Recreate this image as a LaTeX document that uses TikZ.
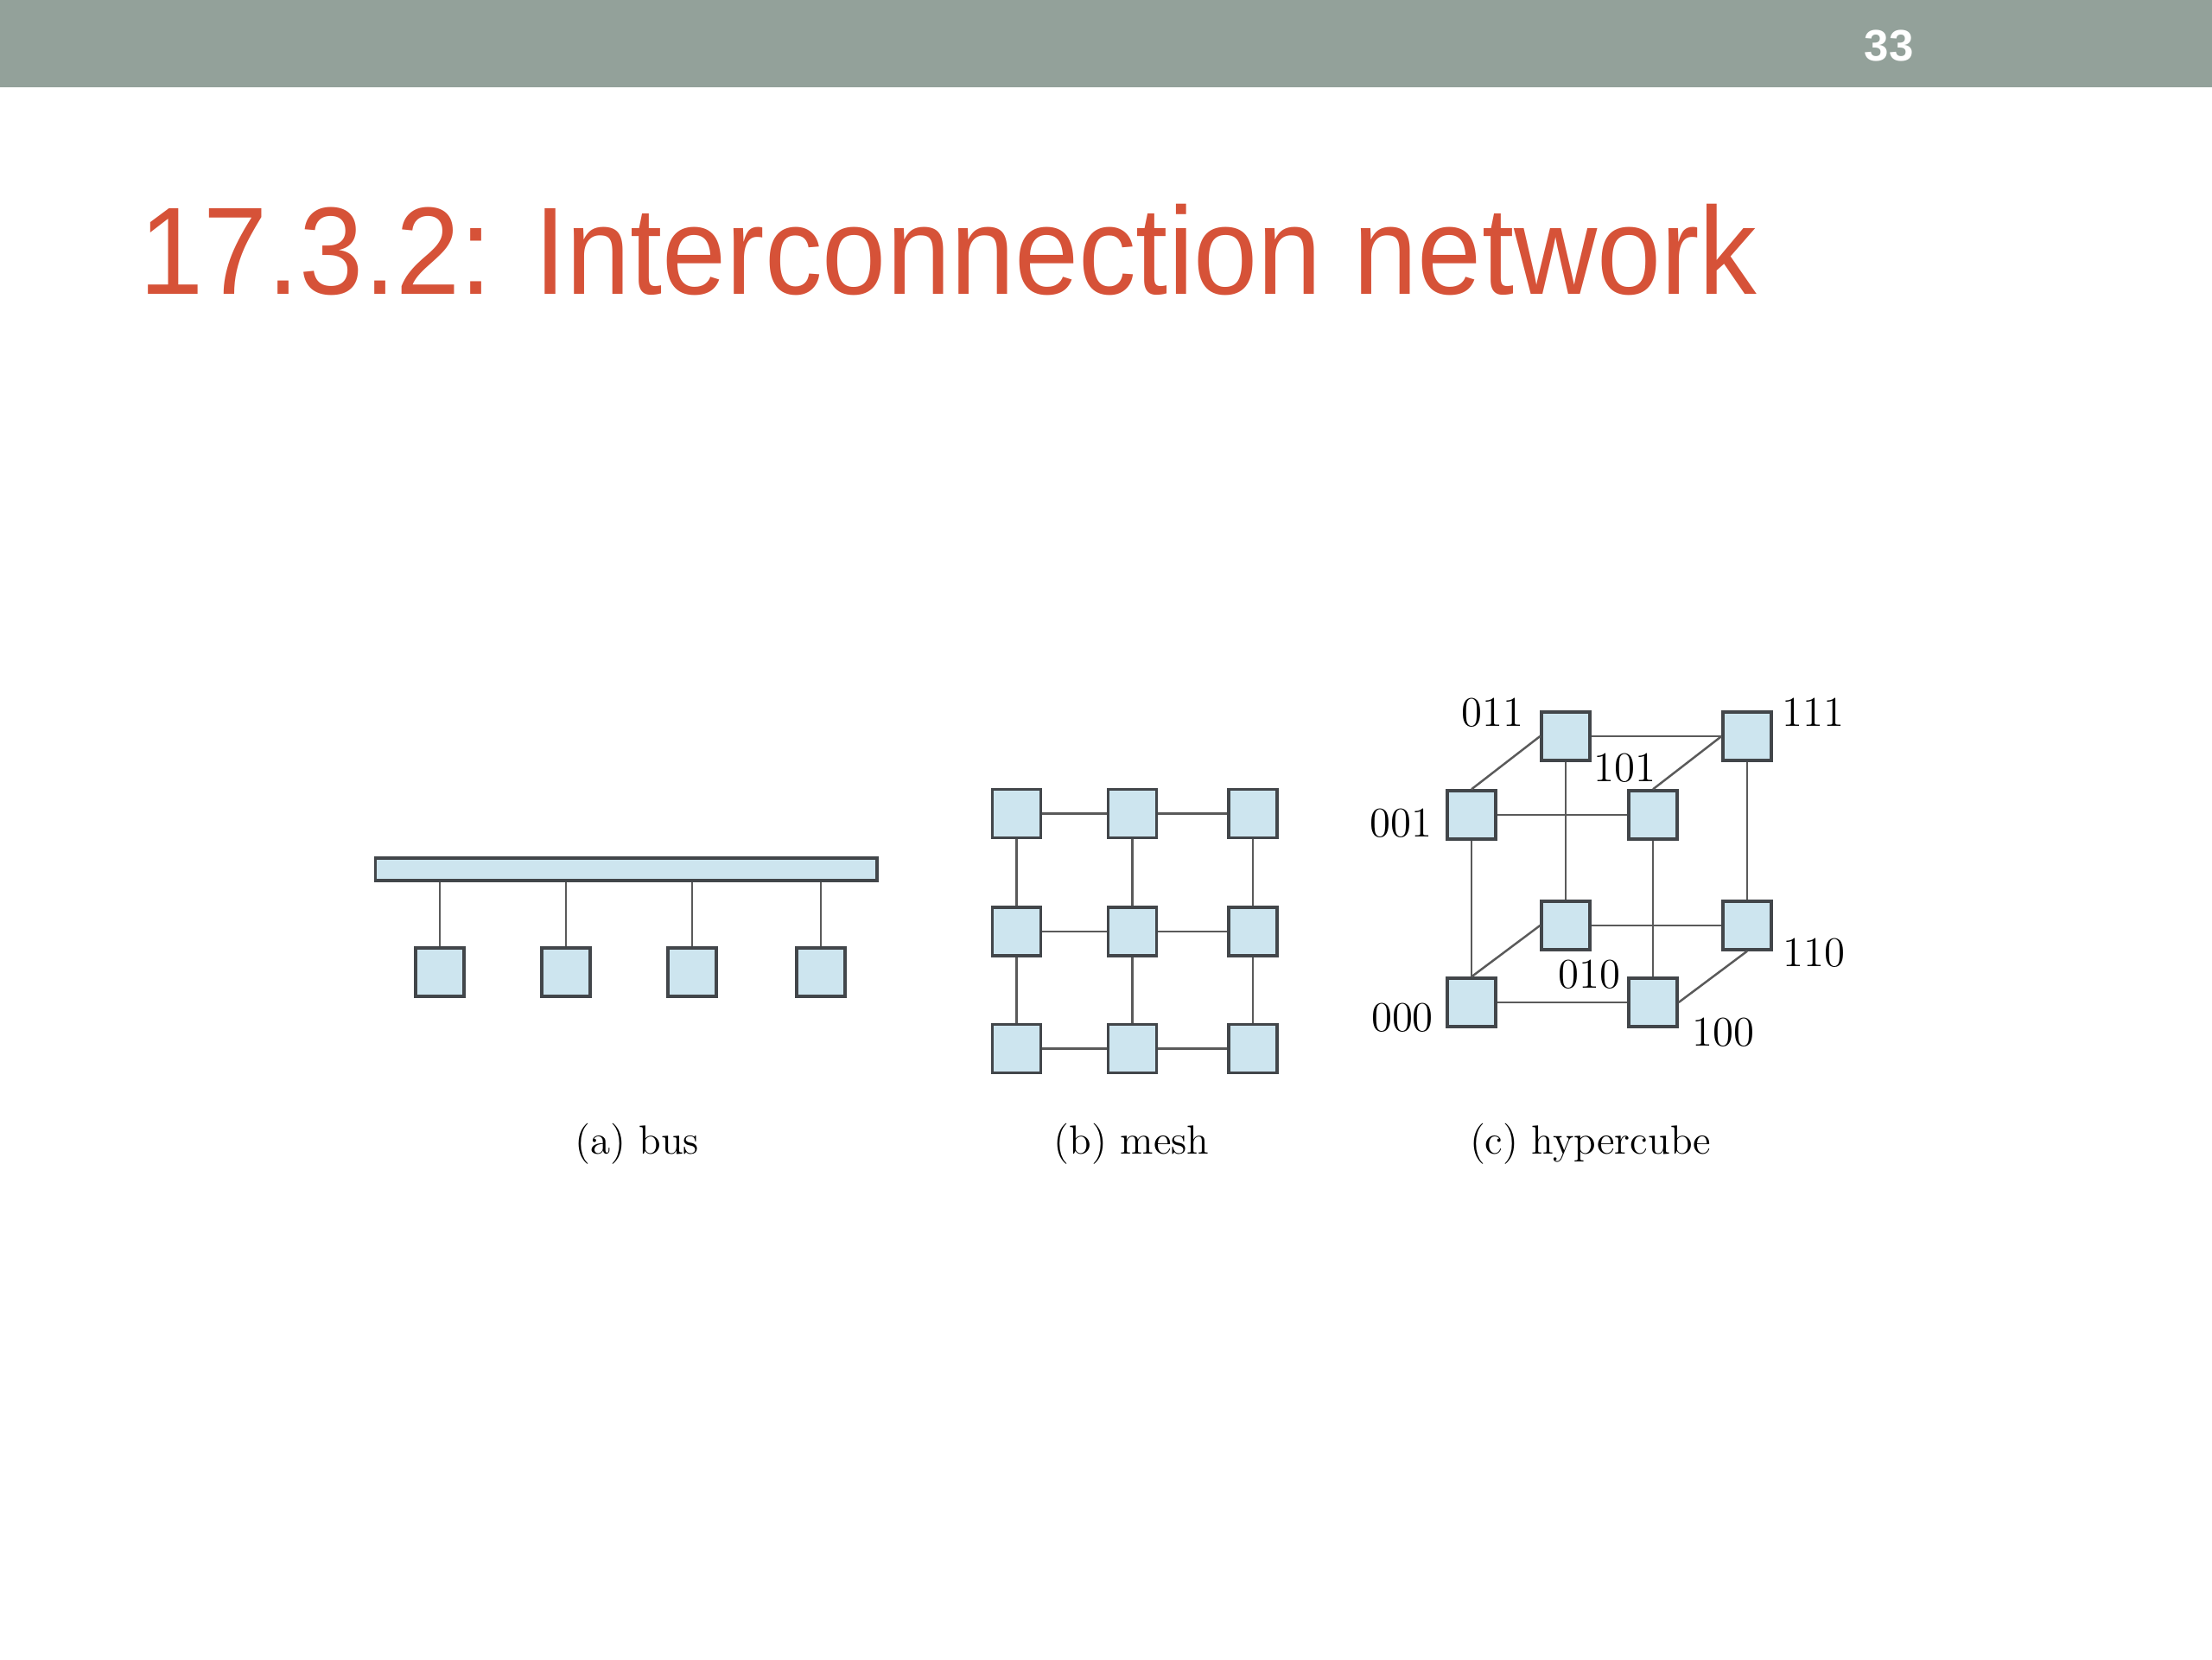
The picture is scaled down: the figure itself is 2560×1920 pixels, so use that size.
\documentclass[tikz,border=0pt]{standalone}
\usepackage{fontspec}
\usepackage{graphicx}
\newfontfamily\headfont{Liberation Sans}
\usepackage{tikz}
\usetikzlibrary{positioning}
\definecolor{bargray}{RGB}{147,161,154}
\definecolor{titlered}{RGB}{214,82,56}
\definecolor{nodeblue}{RGB}{205,229,239}
\definecolor{edgegray}{RGB}{66,70,74}
\definecolor{linkgray}{RGB}{90,90,90}

\begin{document}
\begin{tikzpicture}[x=0.01cm,y=-0.01cm,
    proc/.style={draw=edgegray,fill=nodeblue,line width=0.95pt,minimum size=0.56cm,inner sep=0pt},
    link/.style={draw=linkgray,line width=0.7pt},
    bitlabel/.style={font=\fontsize{13.9}{16}\selectfont,inner sep=0pt,anchor=base},
    subcap/.style={font=\fontsize{13.4}{16}\selectfont,inner sep=0pt,anchor=base}]
            \useasboundingbox (0,0) rectangle (2560,1920);
            \fill[white] (0,0) rectangle (2560,1920);
            % Slide header
            \fill[bargray] (0,0) rectangle (2560,101);
            \node[anchor=base,inner sep=0pt,text=white,font=\headfont\bfseries\fontsize{14.5}{17}\selectfont] (pagenum) at (2186,70) {33};
            \node[anchor=base west,inner sep=0pt,text=titlered,font=\headfont\fontsize{37.9}{46}\selectfont] (title) at (161,340) {\scalebox{1}[1.08]{17.3.2: Interconnection network}};

            % Left diagram (bus)
            \node[proc,minimum width=5.80cm,minimum height=0.26cm] (bus) at (724.7,1005.9) {};
            \node[proc] (bus1) at (509,1125) {};
            \node[proc] (bus2) at (655,1125) {};
            \node[proc] (bus3) at (801,1125) {};
            \node[proc] (bus4) at (950,1125) {};
            \draw[link] (bus1.north) -- (bus1.north |- bus.south);
            \draw[link] (bus2.north) -- (bus2.north |- bus.south);
            \draw[link] (bus3.north) -- (bus3.north |- bus.south);
            \draw[link] (bus4.north) -- (bus4.north |- bus.south);
            \node[subcap] (capbus) at (737,1335) {(a) bus};

            % Middle diagram (mesh)
            \node[proc] (m11) at (1176.5,941.5) {};
            \node[proc] (m12) at (1310.7,941.5) {};
            \node[proc] (m13) at (1450,941.5) {};
            \node[proc] (m21) at (1176.5,1078) {};
            \node[proc] (m22) at (1310.7,1078) {};
            \node[proc] (m23) at (1450,1078) {};
            \node[proc] (m31) at (1176.5,1213.5) {};
            \node[proc] (m32) at (1310.7,1213.5) {};
            \node[proc] (m33) at (1450,1213.5) {};
            \draw[link] (m11) -- (m12);
            \draw[link] (m12) -- (m13);
            \draw[link] (m21) -- (m22);
            \draw[link] (m22) -- (m23);
            \draw[link] (m31) -- (m32);
            \draw[link] (m32) -- (m33);
            \draw[link] (m11) -- (m21);
            \draw[link] (m21) -- (m31);
            \draw[link] (m12) -- (m22);
            \draw[link] (m22) -- (m32);
            \draw[link] (m13) -- (m23);
            \draw[link] (m23) -- (m33);
            \node[subcap] (capmesh) at (1309.6,1335) {(b) mesh};

            % Right diagram (hypercube)
            \node[proc] (n011) at (1812,852) {};
            \node[proc] (n111) at (2022,852) {};
            \node[proc] (n001) at (1703,943) {};
            \node[proc] (n101) at (1913,943) {};
            \node[proc] (n010) at (1812,1071) {};
            \node[proc] (n110) at (2022,1071) {};
            \node[proc] (n000) at (1703,1160) {};
            \node[proc] (n100) at (1913,1160) {};
            \draw[link] (n011) -- (n111);
            \draw[link] (n001) -- (n101);
            \draw[link] (n010) -- (n110);
            \draw[link] (n000) -- (n100);
            \draw[link] (n001) -- (n000);
            \draw[link] (n011) -- (n010);
            \draw[link] (n101) -- (n100);
            \draw[link] (n111) -- (n110);
            \draw[link] (n001.north) -- (n011.west);
            \draw[link] (n101.north) -- (n111.west);
            \draw[link] (n000.north) -- (n010.west);
            \draw[link] (n100.east) -- (n110.south);
            \node[bitlabel] (l011) at (1727.5,840) {011};
            \node[bitlabel] (l111) at (2098.5,840) {111};
            \node[bitlabel] (l101) at (1880.5,904) {101};
            \node[bitlabel] (l001) at (1621.6,968) {001};
            \node[bitlabel] (l110) at (2099.6,1118) {110};
            \node[bitlabel] (l010) at (1839.6,1143) {010};
            \node[bitlabel] (l000) at (1623,1193) {000};
            \node[bitlabel] (l100) at (1994.6,1210) {100};
            \node[subcap] (capcube) at (1840.7,1335) {(c) hypercube};
        \end{tikzpicture}
\end{document}
